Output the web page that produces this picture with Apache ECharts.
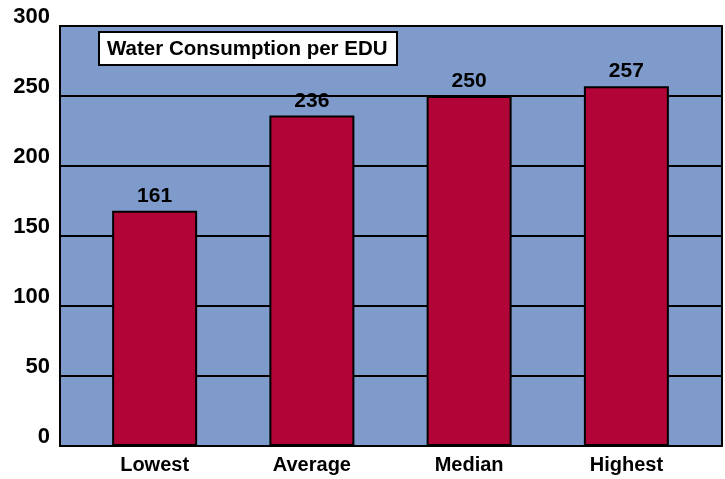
<!DOCTYPE html>
<html>
<head>
<meta charset="utf-8">
<script src="https://cdn.jsdelivr.net/npm/echarts@6/dist/echarts.min.js"></script>
<style>
  html, body { margin: 0; padding: 0; background: #fff; }
  #chart { width: 725px; height: 479px; }
</style>
</head>
<body>
<div id="chart"></div>
<script>
// categories and values
const categories = ['Lowest', 'Average', 'Median', 'Highest']
// bar heights as drawn (Lowest bar is drawn taller than its label)
const barValues = [168, 236, 250, 257]
// numbers printed above the bars
const barLabels = ['161', '236', '250', '257']
const yTicks = [0, 50, 100, 150, 200, 250, 300]

const chart = echarts.init(document.getElementById('chart'))

const font = "'Liberation Sans', Arial, Helvetica, sans-serif"

chart.setOption({
  animation: false,
  textStyle: { fontFamily: font },
  title: {
    text: 'Water Consumption per EDU',
    left: 99,
    top: 32,
    padding: [7, 10, 6, 8],
    backgroundColor: '#ffffff',
    borderColor: '#000',
    borderWidth: 2,
    textStyle: { fontFamily: font, fontWeight: 'bold', fontSize: 20.5, lineHeight: 20, color: '#000' }
  },
  grid: [
    // background grid with axes and gridlines
    {
      left: 60, right: 3, top: 26, bottom: 33,
      show: true,
      backgroundColor: '#7f9bcb',
      borderColor: '#000',
      borderWidth: 2
    },
    // bar grid, slightly narrower so bars sit where the original has them
    { left: 76, right: 20, top: 26, bottom: 33 }
  ],
  xAxis: [
    {
      gridIndex: 0,
      type: 'category',
      data: categories,
      axisLine: { show: false },
      axisTick: { show: false },
      axisLabel: { show: false }
    },
    {
      gridIndex: 1,
      type: 'category',
      data: categories,
      axisLine: { show: false },
      axisTick: { show: false },
      axisLabel: {
        margin: 9,
        fontFamily: font,
        fontWeight: 'bold',
        fontSize: 20,
        color: '#000'
      }
    }
  ],
  yAxis: [
    {
      gridIndex: 0,
      type: 'value',
      min: yTicks[0],
      max: yTicks[yTicks.length - 1],
      interval: 50,
      axisLine: { show: false },
      axisTick: { show: false },
      splitLine: { show: true, lineStyle: { color: '#000', width: 2 } },
      axisLabel: {
        margin: 10,
        verticalAlign: 'bottom',
        lineHeight: 18,
        fontFamily: font,
        fontWeight: 'bold',
        fontSize: 22,
        color: '#000'
      }
    },
    {
      gridIndex: 1,
      type: 'value',
      min: yTicks[0],
      max: yTicks[yTicks.length - 1],
      interval: 50,
      show: false,
      splitLine: { show: false }
    }
  ],
  series: [
    {
      type: 'bar',
      xAxisIndex: 1,
      yAxisIndex: 1,
      data: barValues,
      barWidth: 85,
      itemStyle: { color: '#b10538', borderColor: '#000', borderWidth: 2 },
      label: {
        show: true,
        position: 'top',
        distance: 4,
        formatter: p => barLabels[p.dataIndex],
        fontFamily: font,
        fontWeight: 'bold',
        fontSize: 21,
        color: '#000'
      }
    }
  ]
})
</script>
</body>
</html>
